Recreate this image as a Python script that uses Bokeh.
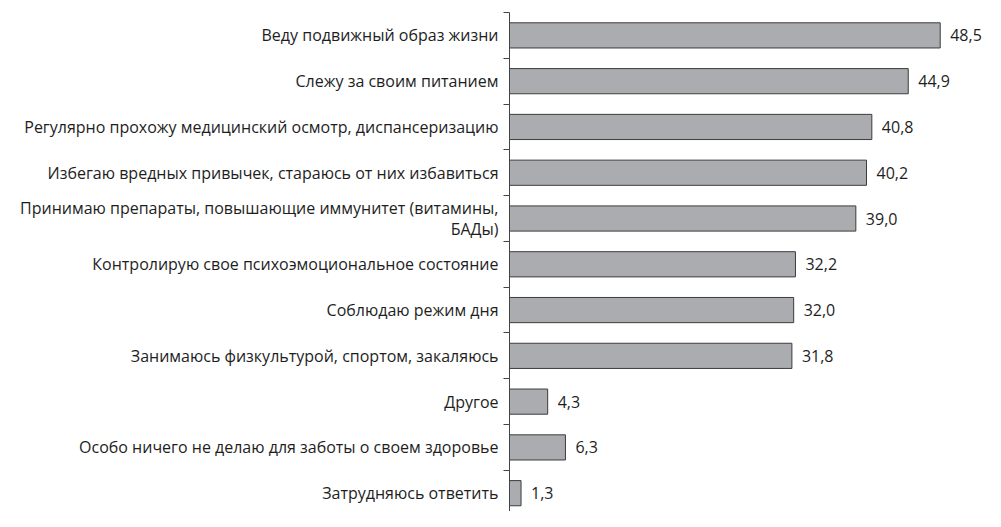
from bokeh.plotting import figure
from bokeh.models import Range1d, LinearAxis, FixedTicker, ColumnDataSource
from bokeh.core.properties import value
from bokeh.embed import file_html
from bokeh.resources import INLINE

categories = [
    "Веду подвижный образ жизни",
    "Слежу за своим питанием",
    "Регулярно прохожу медицинский осмотр, диспансеризацию",
    "Избегаю вредных привычек, стараюсь от них избавиться",
    "Принимаю препараты, повышающие иммунитет (витамины,\nБАДы)",
    "Контролирую свое психоэмоциональное состояние",
    "Соблюдаю режим дня",
    "Занимаюсь физкультурой, спортом, закаляюсь",
    "Другое",
    "Особо ничего не делаю для заботы о своем здоровье",
    "Затрудняюсь ответить",
]
values = [48.5, 44.9, 40.8, 40.2, 39.0, 32.2, 32.0, 31.8, 4.3, 6.3, 1.3]

FONT = "Open Sans"
n = len(categories)
pos = list(range(n))
labels = [f"{v:.1f}".replace(".", ",") for v in values]

src = ColumnDataSource(dict(y=pos, v=values, lab=labels))

p = figure(width=985, height=511, output_backend="svg", toolbar_location=None,
           x_range=Range1d(0, 53.6), y_range=Range1d(n - 0.6, -0.5),
           min_border_left=509, min_border_top=12, min_border_bottom=0,
           min_border_right=0, x_axis_location=None, y_axis_location=None)
p.outline_line_color = None
p.grid.visible = False

p.hbar(y="y", right="v", left=0, height=0.55, source=src,
       fill_color="#abacb0", line_color="#3c3c3c", line_width=1)
p.text(x="v", y="y", text="lab", source=src, x_offset=10,
       text_baseline="middle", text_align="left",
       text_font=value(FONT), text_font_size="16px", text_color="#1e1e1e")

ax = LinearAxis(ticker=FixedTicker(ticks=pos, minor_ticks=[i - 0.5 for i in range(n + 1)]))
ax.major_label_overrides = {i: c for i, c in enumerate(categories)}
ax.major_tick_line_color = None
ax.major_tick_out = 0
ax.major_tick_in = 0
ax.minor_tick_out = 6
ax.minor_tick_in = 0
ax.minor_tick_line_color = "#444444"
ax.axis_line_color = "#444444"
ax.major_label_standoff = 5
ax.major_label_text_font = FONT
ax.major_label_text_font_size = "16px"
ax.major_label_text_color = "#1e1e1e"
ax.major_label_text_line_height = 0.95
p.add_layout(ax, "left")

open("out.html", "w").write(file_html(p, INLINE))
